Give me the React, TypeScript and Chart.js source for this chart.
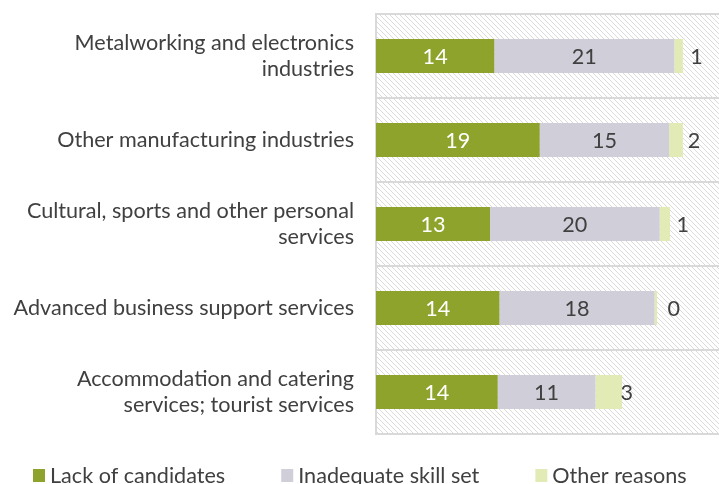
import React, { useEffect, useRef } from "react";
import { Chart, registerables } from "chart.js";

Chart.register(...registerables);

const categories: (string | string[])[] = [
  ["Metalworking and electronics", "industries"],
  "Other manufacturing industries",
  ["Cultural, sports and other personal", "services"],
  "Advanced business support services",
  ["Accommodation and catering", "services; tourist services"],
];
const seriesNames = ["Lack of candidates", "Inadequate skill set", "Other reasons"];
const lackOfCandidates = [13.8, 19.1, 13.3, 14.4, 14.2];
const inadequateSkillSet = [21.0, 15.1, 19.8, 18.1, 11.4];
const otherReasons = [1.0, 1.6, 1.2, 0.3, 3.1];
const colors = ["#8DA32B", "#D0CFD9", "#E2EBB5"];

const FONT = "Lato, 'Noto Sans', sans-serif";
const FS = 21.6;
const W = 745;
const H = 500;

function makeHatch(): CanvasPattern | string {
  const c = document.createElement("canvas");
  const s = 5;
  c.width = s;
  c.height = s;
  const g = c.getContext("2d");
  if (!g) return "#fff";
  g.fillStyle = "#ffffff";
  g.fillRect(0, 0, s, s);
  g.strokeStyle = "#dadada";
  g.lineWidth = 1;
  g.beginPath();
  for (let k = -1; k <= 1; k++) {
    g.moveTo(k * s - 1, -1);
    g.lineTo(k * s + s + 1, s + 1);
  }
  g.stroke();
  const p = g.createPattern(c, "repeat");
  return p || "#fff";
}

const hatchPlugin = {
  id: "hatchBg",
  beforeDraw(chart: any) {
    const { ctx, chartArea } = chart;
    ctx.save();
    ctx.fillStyle = makeHatch();
    ctx.fillRect(chartArea.left, chartArea.top, chartArea.right - chartArea.left, chartArea.bottom - chartArea.top);
    ctx.restore();
  },
};

const valueLabelPlugin = {
  id: "valueLabels",
  afterDatasetsDraw(chart: any) {
    const { ctx } = chart;
    ctx.save();
    ctx.font = `${FS}px ${FONT}`;
    ctx.textAlign = "center";
    ctx.textBaseline = "middle";
    chart.data.datasets.forEach((ds: any, di: number) => {
      const meta = chart.getDatasetMeta(di);
      meta.data.forEach((bar: any, i: number) => {
        const v = ds.data[i];
        const cx = (bar.x + bar.base) / 2 + (di === 2 ? 18 : 0);
        ctx.fillStyle = di === 0 ? "#ffffff" : "#404040";
        ctx.fillText(String(Math.round(v)), cx, bar.y + 1);
      });
    });
    ctx.restore();
  },
};

const legendPlugin = {
  id: "customLegend",
  afterDraw(chart: any) {
    const { ctx } = chart;
    ctx.save();
    ctx.font = `${FS}px ${FONT}`;
    ctx.textBaseline = "middle";
    ctx.textAlign = "left";
    let x = 33;
    const y = 476;
    seriesNames.forEach((name, i) => {
      ctx.fillStyle = colors[i];
      ctx.fillRect(x, y - 7, 12, 13);
      ctx.fillStyle = "#404040";
      ctx.fillText(name, x + 17, y);
      const w = ctx.measureText(name).width;
      x = x + 17 + w + 56;
    });
    ctx.restore();
  },
};

export default function App() {
  const ref = useRef<HTMLCanvasElement | null>(null);
  useEffect(() => {
    document.body.style.margin = "0";
    document.body.style.overflow = "hidden";
    document.documentElement.style.overflow = "hidden";
    if (!ref.current) return;
    const chart = new Chart(ref.current, {
      type: "bar",
      data: {
        labels: categories,
        datasets: [
          { label: seriesNames[0], data: lackOfCandidates, backgroundColor: colors[0] },
          { label: seriesNames[1], data: inadequateSkillSet, backgroundColor: colors[1] },
          { label: seriesNames[2], data: otherReasons, backgroundColor: colors[2] },
        ],
      },
      options: {
        indexAxis: "y",
        responsive: false,
        animation: false,
        devicePixelRatio: 1,
        layout: { padding: { top: 14, bottom: 66, right: 9, left: 0 } },
        datasets: { bar: { categoryPercentage: 1, barPercentage: 0.405 } } as any,
        plugins: { legend: { display: false }, tooltip: { enabled: false } },
        scales: {
          x: { stacked: true, min: 0, max: 42, display: false },
          y: {
            stacked: true,
            grid: { offset: true, color: "#d9d9d9", lineWidth: 2, drawTicks: false },
            border: { display: true, color: "#d9d9d9", width: 2 },
            ticks: {
              color: "#404040",
              padding: 22,
              font: { family: FONT, size: FS, lineHeight: 1.24 },
            },
            afterFit: (scale: any) => {
              scale.width = 376;
              scale.paddingTop = 0;
              scale.paddingBottom = 0;
            },
          },
        },
      },
      plugins: [hatchPlugin, valueLabelPlugin, legendPlugin],
    });
    return () => chart.destroy();
  }, []);
  return (
    <div style={{ width: W, height: H, overflow: "hidden" }}>
      <canvas ref={ref} width={W} height={H} style={{ width: W, height: H, display: "block" }} />
    </div>
  );
}
